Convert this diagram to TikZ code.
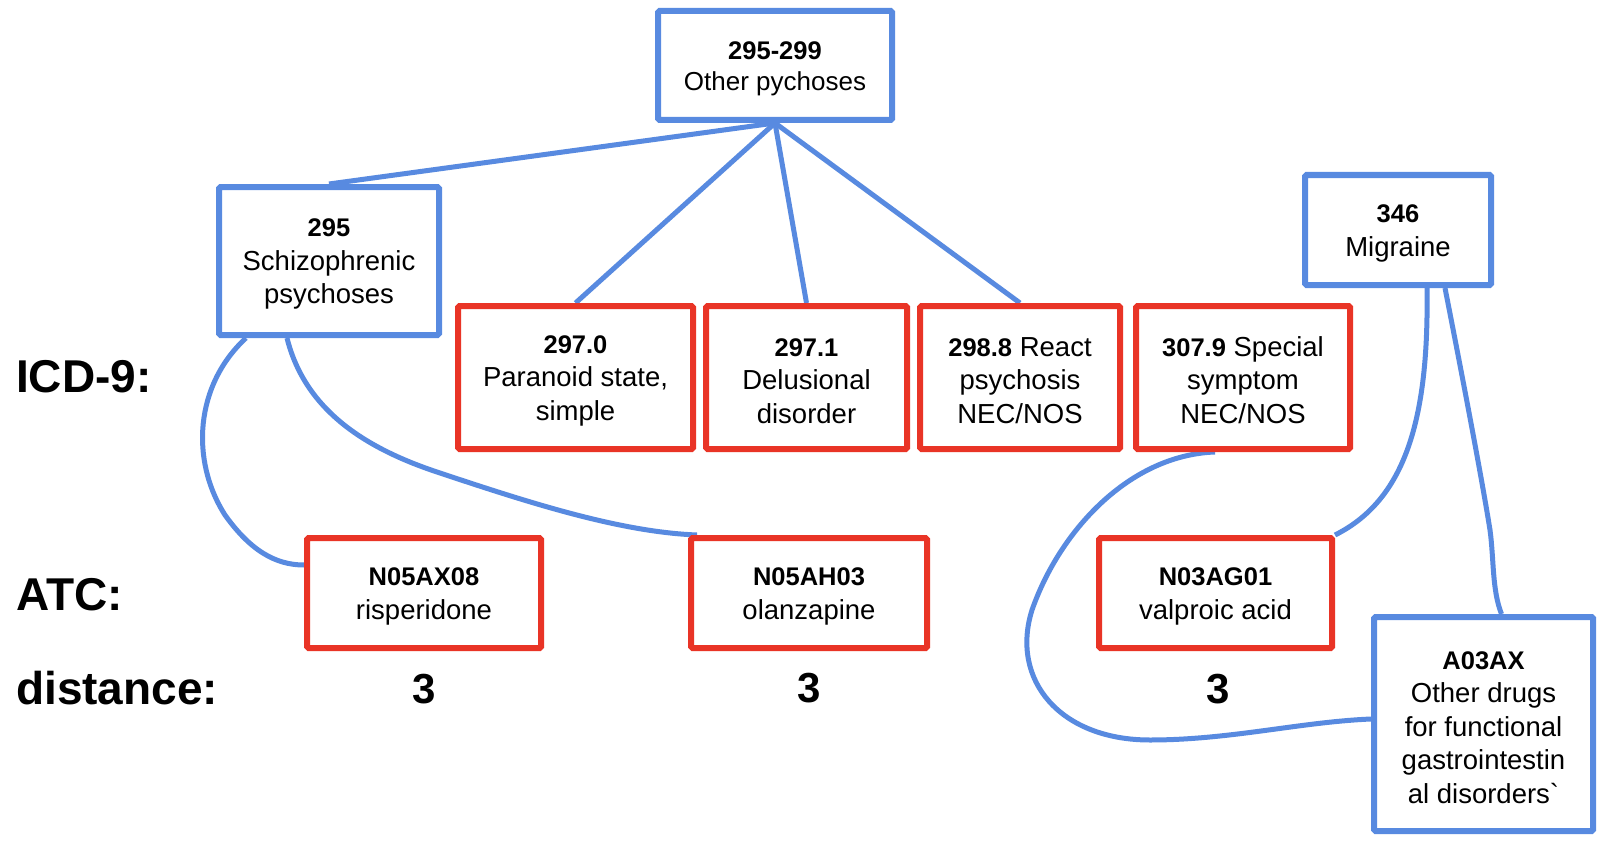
\documentclass[tikz,border=0pt]{standalone}
\usepackage{fontspec}
\setmainfont{Liberation Sans}
\newfontfamily\rawfont{Liberation Sans}[Ligatures=TeXOff]
\definecolor{bblue}{RGB}{88,138,224}
\definecolor{rred}{RGB}{233,52,38}
\newcommand{\cd}[1]{{\rule{0pt}{24.5pt}\fontsize{25.5}{33.5}\selectfont\bfseries #1}}
\pgfdeclarelayer{back}
\pgfdeclarelayer{links}
\pgfsetlayers{back,links,main}
\begin{document}
\begin{tikzpicture}[x=1pt,y=-1pt,
  box/.style={draw, line width=6pt, fill=white, align=center, inner sep=0pt,
    rounded corners=1.5pt, font=\fontsize{27.5}{33.5}\selectfont},
  bluebox/.style={box, draw=bblue},
  redbox/.style={box, draw=rred},
  link/.style={draw=bblue, line width=5pt},
  lbl/.style={font=\fontsize{46}{50}\selectfont\bfseries, anchor=base west, inner sep=0pt},
  dist/.style={font=\fontsize{42}{50}\selectfont\bfseries, anchor=base, inner sep=0pt}]
\begin{pgfonlayer}{back}
\fill[white] (0,0) rectangle (1604,848);
\end{pgfonlayer}
\useasboundingbox (0,0) rectangle (1604,848);

% ICD-9 boxes
\node[bluebox, minimum width=234pt, minimum height=109pt, font=\fontsize{26}{31.5}\selectfont] (top) at (775,65.5) {\cd{295-299}\\Other pychoses};
\node[bluebox, minimum width=220pt, minimum height=148pt] (b295) at (329,261) {\cd{295}\\Schizophrenic\\psychoses};
\node[redbox, minimum width=235pt, minimum height=143pt] (b2970) at (575.5,377.5) {\cd{297.0}\\Paranoid state,\\simple};
\node[redbox, minimum width=201pt, minimum height=143pt] (b2971) at (806.5,377.5) {\cd{297.1}\\Delusional\\disorder};
\node[redbox, minimum width=200pt, minimum height=143pt] (b2988) at (1020,377.5) {\cd{298.8} React\\psychosis\\NEC/NOS};
\node[redbox, minimum width=214pt, minimum height=143pt] (b3079) at (1243,377.5) {\cd{307.9} Special\\symptom\\NEC/NOS};
\node[bluebox, minimum width=186pt, minimum height=110pt] (b346) at (1398,230) {\cd{346}\\Migraine};

% ATC boxes
\node[redbox, minimum width=234pt, minimum height=110pt] (n05ax08) at (424,593) {\cd{N05AX08}\\risperidone};
\node[redbox, minimum width=236pt, minimum height=110pt] (n05ah03) at (809,593) {\cd{N05AH03}\\olanzapine};
\node[redbox, minimum width=233pt, minimum height=110pt] (n03ag01) at (1215.5,593) {\cd{N03AG01}\\valproic acid};
\node[bluebox, minimum width=219pt, minimum height=214pt] (a03ax) at (1483.5,724) {\cd{A03AX}\\Other drugs\\for functional\\gastrointestin\\al disorders{\rawfont`}};

% row labels
\node[lbl] (licd) at (16,392) {ICD-9:};
\node[lbl] (latc) at (16,610) {ATC:};
\node[lbl] (ldist) at (16,704) {distance:};
\node[dist] (d1) at (424,703) {3};
\node[dist] (d2) at (809,702) {3};
\node[dist] (d3) at (1218,703) {3};

% connectors
\begin{pgfonlayer}{links}
\draw[link] (top.south) -- (b295.north);
\draw[link] (top.south) -- (b2970.north);
\draw[link] (top.south) -- (b2971.north);
\draw[link] (top.south) -- (b2988.north);
\draw[link] ([xshift=-83pt]b295.south) .. controls (195,385) and (190,460) .. (225,515)
  .. controls (250,550) and (275,565) .. ([yshift=28pt]n05ax08.west);
\draw[link] ([xshift=-42pt]b295.south) .. controls (305,410) and (365,448) .. (437,472)
  .. controls (530,503) and (620,532) .. ([xshift=9pt]n05ah03.north west);
\draw[link] ([xshift=29pt]b346.south) .. controls (1429,420) and (1405,500) .. (n03ag01.north east);
\draw[link] ([xshift=47pt]b346.south) .. controls (1465,390) and (1482,480) .. (1490,530)
  .. controls (1494,560) and (1492,590) .. ([xshift=18pt]a03ax.north);
\draw[link] ([xshift=-28pt]b3079.south) .. controls (1130,455) and (1060,530) .. (1032,610)
  .. controls (1010,680) and (1060,740) .. (1150,740)
  .. controls (1230,740) and (1300,722) .. ([yshift=5pt]a03ax.west);
\end{pgfonlayer}
\end{tikzpicture}
\end{document}
